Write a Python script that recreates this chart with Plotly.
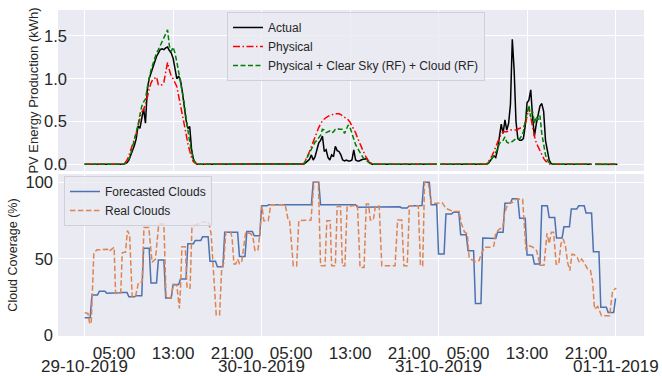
import numpy as np
import pandas as pd
import plotly.graph_objects as go

START = pd.Timestamp("2019-10-29 00:00")

# ---------------- PV energy production (kWh), 15-min samples ----------------
# Each list covers 05:00 ... 15:30 of one day (43 samples); outside these
# windows production is 0. Two samples are missing in the record.
actual_d1 = [0, 0, 0.01, 0.02, 0.05, 0.1, 0.16, 0.22, 0.3, 0.45, 0.42, 0.52,
             0.65, 0.48, 0.87, 1.0, 1.07, 1.13, 1.2, 1.26, 1.3, 1.34, 1.35, 1.34,
             1.36, 1.37, 1.33, 1.3, 1.24, 1.14, 1.0, 1.03, 0.98, 0.85, 0.68, 0.52,
             0.42, 0.44, 0.18, 0.06, 0.02, 0, 0]
actual_d2 = [0, 0, 0, 0.005, 0.02, 0.04, 0.06, 0.11, 0.05, 0.09, 0.16, 0.25,
             0.28, 0.33, 0.15, 0.17, 0.08, 0.05, 0.11, 0.09, 0.21, 0.16, 0.15, 0.11,
             0.05, 0.04, 0.05, 0.04, 0.04, 0.05, 0.17, 0.05, 0.04, 0.04, 0.05, 0.06,
             0.06, 0.07, 0.03, 0.01, 0, 0, 0]
actual_d3 = [0, 0, 0, 0, 0, 0, 0, 0.01, 0.04, 0.08, 0.1, 0.08,
             0.17, 0.32, 0.47, 0.36, 0.52, 0.40, 0.48, 0.7, 1.46, 1.1, 0.5, 0.3,
             0.28, 0.28, 0.3, 0.45, 0.72, 0.75, 0.87, 0.55, 0.33, 0.47, 0.57, 0.68,
             0.71, 0.62, 0.28, 0.16, 0.05, 0.01, 0]

physical_d1 = [0, 0, 0.02, 0.05, 0.1, 0.16, 0.22, 0.28, 0.36, 0.46, 0.53, 0.61,
               0.64, 0.7, 0.78, 0.88, 0.95, 0.99, 1.01, 1.02, 0.93, 0.92, 0.93, 0.96,
               1.08, 1.19, 1.1, 1.03, 1.0, 0.96, 0.91, 0.8, 0.7, 0.6, 0.48, 0.36,
               0.24, 0.15, 0.08, 0.03, 0.01, 0, 0]
physical_d2 = [0, 0, 0, 0.01, 0.05, 0.1, 0.15, 0.21, 0.27, 0.33, 0.38, 0.43,
               0.47, 0.51, 0.53, 0.55, 0.56, 0.57, 0.58, 0.585, 0.59, 0.59, 0.59, 0.58,
               0.565, 0.55, 0.535, 0.52, 0.49, 0.45, 0.41, 0.37, 0.31, 0.25, 0.21, 0.16,
               0.11, 0.07, 0.04, 0.02, 0.005, 0, 0]
physical_d3 = [0, 0, 0, 0, 0, 0, 0, 0.03, 0.06, 0.1, 0.15, 0.21,
               0.26, 0.31, 0.35, 0.38, 0.38, 0.38, 0.39, 0.4, 0.4, 0.4, 0.4, 0.41,
               0.42, 0.43, 0.44, 0.46, 0.56, 0.66, 0.55, 0.42, 0.33, 0.25, 0.2, 0.15,
               0.11, 0.07, 0.04, 0.02, 0.005, 0, 0]

hybrid_d1 = [0, 0, 0.01, 0.03, 0.06, 0.12, 0.2, 0.27, 0.36, 0.46, 0.58, 0.68,
             0.73, 0.76, 0.9, 1.02, 1.1, 1.17, 1.24, 1.3, 1.34, 1.39, 1.42, 1.48,
             1.52, 1.57, 1.38, 1.32, 1.37, 1.3, 1.2, 1.08, 0.99, 0.86, 0.72, 0.55,
             0.38, 0.26, 0.15, 0.06, 0.02, 0, 0]
hybrid_d2 = [0, 0, 0, 0.01, 0.05, 0.09, 0.14, 0.18, 0.22, 0.26, 0.28, 0.31,
             0.34, 0.41, 0.4, 0.37, 0.38, 0.39, 0.37, 0.38, 0.41, 0.42, 0.41, 0.41,
             0.41, 0.36, 0.42, 0.46, 0.43, 0.36, 0.29, 0.23, 0.19, 0.15, 0.11, 0.08,
             0.06, 0.04, 0.02, 0.005, 0, 0, 0]
hybrid_d3 = [0, 0, 0, 0, 0, 0, 0.005, 0.02, 0.04, 0.07, 0.1, 0.14,
             0.18, 0.24, 0.27, 0.28, 0.32, 0.26, 0.25, 0.25, 0.27, 0.28, 0.3, 0.3,
             0.3, 0.33, 0.38, 0.5, 0.58, 0.69, 0.55, 0.62, 0.48, 0.56, 0.52, 0.57,
             0.36, 0.21, 0.11, 0.05, 0.02, 0.005, 0]

missing_times = ["2019-10-31 00:00", "2019-10-31 21:00"]

# ---------------- Cloud coverage (%) ----------------
# hourly forecast (hours 0..72 after 29-10-2019 00:00), held for 45 min
forecast_hourly = [11.7, 26.5, 29.0, 27.6, 28.0, 28.2, 25.4, 26.1, 57.0, 34.3,
                   49.3, 24.6, 33.3, 37.0, 60.0, 62.0, 64.5, 48.5, 45.0, 67.4,
                   67.4, 51.7, 68.0, 65.2, 84.7, 85.4, 85.4, 85.4, 85.4, 85.4,
                   85.4, 100.0, 85.4, 85.4, 85.4, 85.4, 85.4, 83.7, 83.7, 83.7,
                   83.7, 83.7, 84.0, 83.3, 84.5, 84.8, 100.0, 85.4, 53.2, 79.3,
                   80.4, 65.8, 55.4, 21.0, 63.7, 63.3, 67.4, 86.3, 89.3, 76.5,
                   52.6, 46.7, 84.7, 77.0, 63.7, 71.0, 82.6, 84.7, 80.0, 54.8,
                   18.5, 15.2, 24.3]

# observed clouds: hours after 29-10-2019 00:00 and value
real_hours = [0.0, 0.45, 0.7, 0.9, 1.25, 1.7, 3.1, 3.3, 4.0, 4.2,
              4.9, 5.1, 5.55, 5.8, 6.1, 6.45, 6.9, 7.3, 7.8, 8.05,
              8.7, 9.15, 9.6, 10.05, 10.75, 11.05, 11.7, 12.0, 12.5, 12.85,
              13.0, 13.2, 13.65, 13.9, 14.3, 14.55, 15.0, 15.7, 16.15, 16.8,
              17.15, 17.5, 17.85, 18.3, 18.6, 18.85, 19.15, 19.8, 20.0, 20.25,
              20.5, 20.75, 21.0, 21.3, 21.85, 22.5, 22.8, 23.1, 23.5, 23.75,
              24.05, 24.3, 24.9, 25.25, 27.2, 27.6, 27.8, 28.3, 28.75, 29.05,
              30.7, 31.1, 31.7, 32.0, 32.6, 32.85, 33.3, 33.5, 34.0, 34.25,
              34.7, 34.95, 35.3, 35.6, 37.0, 37.35, 37.9, 38.2, 38.5, 38.75,
              39.15, 39.45, 39.95, 40.3, 42.1, 42.45, 43.0, 43.3, 43.75, 44.05,
              45.25, 45.55, 45.85, 46.1, 46.6, 47.0, 48.1, 48.5, 49.0, 49.5,
              50.0, 50.8, 51.1, 51.5, 51.9, 52.15, 53.0, 53.5, 53.7, 54.2,
              55.1, 55.5, 55.75, 56.2, 56.7, 56.95, 57.4, 58.1, 58.5, 59.4,
              59.85, 60.3, 60.7, 61.3, 61.75, 62.3, 62.7, 63.0, 63.3, 63.6,
              63.95, 64.3, 64.6, 64.9, 65.2, 65.5, 65.8, 66.1, 66.4, 66.8,
              67.1, 67.4, 67.8, 68.2, 68.6, 68.9, 69.15, 69.6, 69.8, 70.1,
              71.2, 71.4, 71.6, 72.1]
real_clouds = [15, 14.5, 7.6, 9, 54, 56, 56.3, 55, 57.6, 27.6,
               28, 54, 54.5, 68.5, 65.7, 25.4, 25.5, 34.6, 35, 70.6,
               70.6, 48, 49.8, 72.8, 72.8, 24.8, 24.8, 33, 33, 17.8,
               30, 58, 58, 30.9, 31, 70, 72.2, 73.3, 74.3, 74.3,
               66.7, 40, 13.5, 13.5, 45, 47, 67.5, 67.5, 64, 46.7,
               46.7, 50, 47, 48, 67.5, 66.5, 65, 55.5, 55.5, 66,
               84.7, 75, 75, 85.4, 85.4, 75.5, 75, 45.5, 45.5, 75,
               75.4, 100, 100, 45.6, 45.6, 75, 75, 45.6, 45.6, 84,
               84.5, 45.6, 45.6, 84, 85.4, 44.5, 44.5, 85.8, 85.8, 75.4,
               75.4, 84.7, 84.5, 45.6, 45.6, 75.4, 75.4, 45.6, 45.6, 84.7,
               84.7, 45.6, 45.6, 100, 100, 86, 86.5, 86.7, 83, 82,
               81, 81, 73, 67.8, 66.3, 50.4, 48.3, 49, 52, 57.6,
               57.6, 58.5, 66.7, 69.3, 70.5, 79.8, 86.3, 87, 89, 89,
               55.9, 58.5, 58, 55.5, 46, 46, 66.7, 60, 67.4, 67.4,
               46.7, 46.5, 60, 63, 58.7, 47.8, 42.4, 53.2, 52.8, 51,
               47.8, 50, 47.2, 43.5, 42.5, 35, 17.4, 19, 16.5, 13,
               13, 22.8, 29.3, 31]

# ---------------- axis ticks ----------------
hour_tick_hours = [4, 12, 20, 28, 36, 44, 52, 60, 68]
hour_tick_labels = ["05:00", "13:00", "21:00"] * 3
date_tick_hours = [0, 24, 48, 72]
date_tick_labels = ["29-10-2019", "30-10-2019", "31-10-2019", "01-11-2019"]
top_grid_hours = [0, 12, 24, 36, 48, 60, 72]


def t(hours):
    return [(START + pd.Timedelta(hours=float(h))).strftime("%Y-%m-%d %H:%M:%S") for h in hours]


pv_times = pd.date_range(START, periods=290, freq="15min")
missing_mask = pv_times.isin(pd.to_datetime(missing_times))


def build(days):
    arr = np.zeros(len(pv_times))
    for d, vals in enumerate(days):
        i0 = d * 96 + 20
        arr[i0:i0 + len(vals)] = vals
    arr[missing_mask] = np.nan
    return arr


actual = build([actual_d1, actual_d2, actual_d3])
physical = build([physical_d1, physical_d2, physical_d3])
hybrid = build([hybrid_d1, hybrid_d2, hybrid_d3])

fc_hours, fc_vals = [], []
for k, v in enumerate(forecast_hourly):
    fc_hours.append(k)
    fc_vals.append(v)
    if k < len(forecast_hourly) - 1:
        fc_hours.append(k + 0.75)
        fc_vals.append(v)

pv_x = pv_times.strftime("%Y-%m-%d %H:%M:%S").tolist()

FONT = "Liberation Sans, Arial, sans-serif"
TXT = "#262626"
BG = "#EAEAF2"

fig = go.Figure()
fig.add_trace(go.Scatter(x=pv_x, y=actual, mode="lines", name="Actual",
                         line=dict(color="black", width=1.5), legend="legend"))
fig.add_trace(go.Scatter(x=pv_x, y=physical, mode="lines", name="Physical",
                         line=dict(color="#FF0000", width=1.5, dash="7px,2.5px,1.5px,2.5px"),
                         legend="legend"))
fig.add_trace(go.Scatter(x=pv_x, y=hybrid, mode="lines",
                         name="Physical + Clear Sky (RF) + Cloud (RF)",
                         line=dict(color="#008000", width=1.5, dash="5px,2.5px"),
                         legend="legend"))
fig.add_trace(go.Scatter(x=t(fc_hours), y=fc_vals, mode="lines", name="Forecasted Clouds",
                         line=dict(color="#4C72B0", width=1.5),
                         xaxis="x2", yaxis="y2", legend="legend2"))
fig.add_trace(go.Scatter(x=t(real_hours), y=real_clouds, mode="lines", name="Real Clouds",
                         line=dict(color="#DD8452", width=1.5, dash="5.5px,2.5px"),
                         xaxis="x2", yaxis="y2", legend="legend2"))

xrange = t([-3.61, 75.86])

for txt, h in zip(date_tick_labels, date_tick_hours):
    fig.add_annotation(x=t([h])[0], y=-0.094, xref="x2", yref="paper", text=txt,
                       showarrow=False, yanchor="middle", xanchor="center",
                       font=dict(size=17, color=TXT, family=FONT))

legend_style = dict(bgcolor="rgba(234,234,242,0.8)", bordercolor="#d0d0d8", borderwidth=1,
                    font=dict(size=12, color=TXT, family=FONT),
                    xanchor="left", yanchor="top", tracegroupgap=0)

fig.update_layout(
    width=662, height=376,
    margin=dict(l=58, r=18, t=10, b=40),
    paper_bgcolor="white", plot_bgcolor=BG,
    font=dict(family=FONT, color=TXT),
    showlegend=True,
    legend=dict(x=0.2884, y=0.9939, **legend_style),
    legend2=dict(x=0.0102, y=0.4908, **legend_style),
    xaxis=dict(domain=[0, 1], anchor="y", type="date", range=xrange,
               tickmode="array", tickvals=t(top_grid_hours), showticklabels=False,
               showgrid=True, gridcolor="white", gridwidth=1, zeroline=False,
               showline=False, ticks=""),
    yaxis=dict(domain=[0.5061, 1.0], anchor="x", range=[-0.078, 1.803],
               tickmode="array", tickvals=[0, 0.5, 1.0, 1.5], tickformat=".1f",
               tickfont=dict(size=16.5, color=TXT), showgrid=True, gridcolor="white",
               gridwidth=1, zeroline=False, showline=False, ticks="",
               ticklabelstandoff=-10,
               title=dict(text="PV Energy Production (kWh)", font=dict(size=13, color=TXT),
                          standoff=2)),
    xaxis2=dict(domain=[0, 1], anchor="y2", type="date", range=xrange,
                tickmode="array", tickvals=t(hour_tick_hours), ticktext=hour_tick_labels,
                tickangle=0, tickfont=dict(size=17, color=TXT), showgrid=False,
                zeroline=False, showline=False, ticks="", ticklabelstandoff=5,
                minor=dict(tickmode="array", tickvals=t(date_tick_hours), showgrid=True,
                           gridcolor="white", gridwidth=1, ticks="")),
    yaxis2=dict(domain=[0, 0.4969], anchor="x2", range=[-0.2, 105.4],
                tickmode="array", tickvals=[0, 50, 100],
                tickfont=dict(size=16.5, color=TXT), showgrid=True, gridcolor="white",
                gridwidth=1, zeroline=False, showline=False, ticks="",
                ticklabelstandoff=4,
                title=dict(text="Cloud Coverage (%)", font=dict(size=12.5, color=TXT),
                           standoff=5)),
)

fig.write_html("out.html", config={"displayModeBar": False},
               post_script="document.body.style.margin='0';")
